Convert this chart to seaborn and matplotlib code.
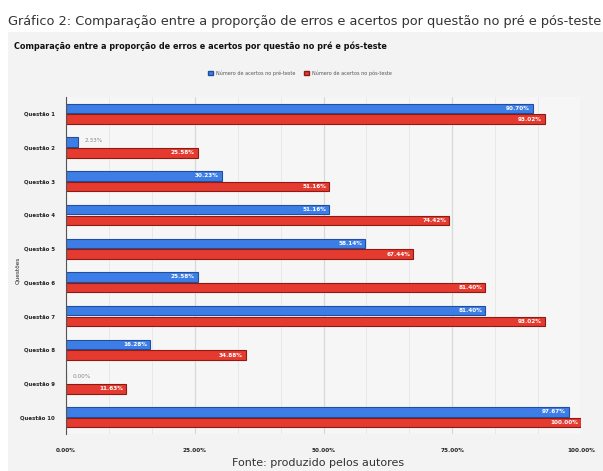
import matplotlib
matplotlib.use("Agg")
import matplotlib.pyplot as plt
import matplotlib.patches as mpatches
from matplotlib.ticker import MultipleLocator, FuncFormatter
import seaborn as sns
import pandas as pd

questoes = ["Questão 1", "Questão 2", "Questão 3", "Questão 4", "Questão 5",
            "Questão 6", "Questão 7", "Questão 8", "Questão 9", "Questão 10"]
pre_teste = [90.70, 2.33, 30.23, 51.16, 58.14, 25.58, 81.40, 16.28, 0.00, 97.67]
pos_teste = [93.02, 25.58, 51.16, 74.42, 67.44, 81.40, 93.02, 34.88, 11.63, 100.00]
serie_pre = "Número de acertos no pré-teste"
serie_pos = "Número de acertos no pós-teste"
x_ticks = [0, 25, 50, 75, 100]

df = pd.DataFrame({
    "Questões": questoes * 2,
    "valor": pre_teste + pos_teste,
    "serie": [serie_pre] * len(questoes) + [serie_pos] * len(questoes),
})

sns.set_theme(style="white")
plt.rcParams['font.family'] = ['DejaVu Sans']
plt.rcParams['font.stretch'] = 'condensed'

fig = plt.figure(figsize=(6.03, 4.71), dpi=100, facecolor="white")
# chart background panel
fig.patches.append(mpatches.Rectangle((8/603, 0), 1 - 8/603, 1 - 32/471,
                                      transform=fig.transFigure, facecolor="#f3f3f3",
                                      edgecolor="none", zorder=-5))

ax = fig.add_axes([66/603, 1 - 434/471, (581 - 66)/603, (434 - 97)/471])
ax.set_zorder(2)
ax.set_facecolor("#f6f6f6")

blue = "#3d7ee6"
red = "#e53a2f"
sns.barplot(data=df, y="Questões", x="valor", hue="serie", orient="h",
            palette=[blue, red], saturation=1, width=0.64, gap=0.12, ax=ax,
            legend=False, order=questoes, hue_order=[serie_pre, serie_pos])

edge = {0: "#1f4f9e", 1: "#8e1a14"}
for i, cont in enumerate(ax.containers):
    for p in cont.patches:
        p.set_edgecolor(edge[i])
        p.set_linewidth(0.8)
    vals = pre_teste if i == 0 else pos_teste
    for p, v in zip(cont.patches, vals):
        yc = p.get_y() + p.get_height() / 2
        lbl = f"{v:.2f}%"
        if v < 10:
            ax.text(v + 1.2, yc - 0.05, lbl, fontsize=4.6, color="#888888",
                    va="center", ha="left")
        else:
            ax.text(v - 0.6, yc, lbl, fontsize=4.6, color="white",
                    va="center", ha="right", fontweight="bold")

ax.set_xlim(0, 100)
ax.set_ylim(9.5, -0.5)
ax.xaxis.set_major_locator(MultipleLocator(25))
ax.xaxis.set_minor_locator(MultipleLocator(25/3))
ax.xaxis.set_major_formatter(FuncFormatter(lambda v, p: f"{v:.2f}%"))
ax.grid(axis="x", which="major", color="#d8d8d8", linewidth=0.9)
ax.grid(axis="x", which="minor", color="#e6e6e6", linewidth=0.6)
ax.set_axisbelow(True)
for s in ["top", "right", "bottom"]:
    ax.spines[s].set_visible(False)
ax.spines["left"].set_color("#555555")
ax.spines["left"].set_linewidth(0.8)
ax.tick_params(axis="x", which="both", length=0, labelsize=4.6, pad=10)
ax.tick_params(axis="y", length=0, labelsize=4.3, pad=8)
for t in ax.get_xticklabels() + ax.get_yticklabels():
    t.set_fontweight("bold")
    t.set_color("#222222")
ax.set_xlabel("")
ax.set_ylabel("")
fig.text(18/603, 1 - 270/471, "Questões", rotation=90, fontsize=4.6,
         color="#222222", va="center", ha="center")

# titles
fig.text(8/603, 1 - 22/471, "Gráfico 2: Comparação entre a proporção de erros e acertos por questão no pré e pós-teste",
         fontsize=9.3, color="#333333", fontstretch="normal",
         va="center", ha="left")
fig.text(14/603, 1 - 46/471, "Comparação entre a proporção de erros e acertos por questão no pré e pós-teste",
         fontsize=6.5, color="#111111", fontweight="bold", va="center", ha="left")

# legend
handles = [mpatches.Patch(facecolor=blue, edgecolor=edge[0], label=serie_pre),
           mpatches.Patch(facecolor=red, edgecolor=edge[1], label=serie_pos)]
fig.legend(handles=handles, loc="center", bbox_to_anchor=(300/603, 1 - 73/471),
           ncol=2, frameon=False, fontsize=4.0, handlelength=0.9, handleheight=0.9,
           columnspacing=1.5, handletextpad=0.5, labelcolor="#555555")

fig.text(318/603, 1 - 463/471, "Fonte: produzido pelos autores", fontsize=8.0,
         color="#333333", fontstretch="normal", va="center", ha="center")

fig.savefig("out.png", dpi=100, facecolor="white")
